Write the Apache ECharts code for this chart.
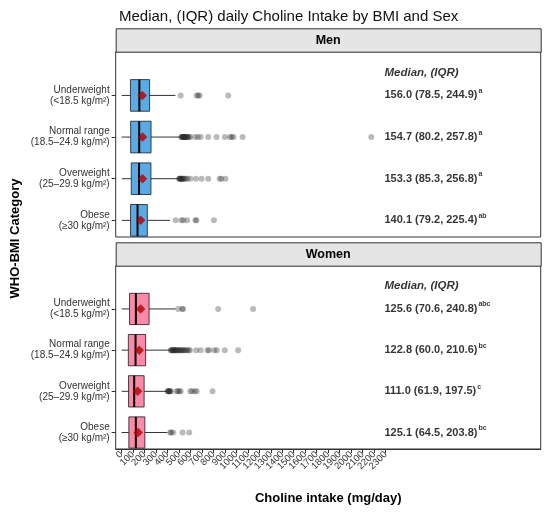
<!DOCTYPE html>
<html>
<head>
<meta charset="utf-8">
<script src="https://cdn.jsdelivr.net/npm/echarts@6/dist/echarts.min.js"></script>
<style>
  html, body { margin: 0; padding: 0; background: #fff; }
  #main { width: 550px; height: 512px; }
</style>
</head>
<body>
<div id="main"></div>
<script>
// categories (top to bottom)
var categories = ['Underweight\n(<18.5 kg/m²)', 'Normal range\n(18.5–24.9 kg/m²)', 'Overweight\n(25–29.9 kg/m²)', 'Obese\n(≥30 kg/m²)'];
var panels = ['Men', 'Women'];

// box stats: [lower whisker, Q1, median, Q3, upper whisker]
var menBox = [[2, 78.5, 156.0, 244.9, 470], [1, 80.2, 154.7, 257.8, 518], [4, 85.3, 153.3, 256.8, 500], [3, 79.2, 140.1, 225.4, 422]];
var womenBox = [[1, 70.6, 125.6, 240.8, 470], [1, 60.0, 122.8, 210.6, 428], [2, 61.9, 111.0, 197.5, 400], [1, 64.5, 125.1, 203.8, 400]];

// means (red diamonds)
var menMean = [181, 184, 184, 167];
var womenMean = [167, 155, 141, 146];

// outliers per category
var menOut = [
  [515, 655, 668, 680, 930],
  [522, 526, 530, 534, 538, 542, 546, 550, 555, 560, 566, 572, 580, 588, 596, 640, 665, 690, 755, 828, 900, 945, 960, 975, 1055, 2175],
  [502, 506, 510, 514, 518, 522, 527, 533, 540, 550, 560, 575, 600, 648, 697, 755, 855, 870, 906],
  [472, 522, 538, 572, 645, 652, 805]
];
var womenOut = [
  [494, 530, 536, 842, 1146],
  [430, 435, 440, 445, 450, 455, 460, 466, 472, 478, 485, 492, 500, 508, 516, 524, 532, 540, 550, 560, 572, 585, 596, 650, 690, 750, 762, 808, 830, 900, 1016],
  [402, 406, 410, 414, 418, 424, 430, 480, 492, 505, 515, 600, 615, 640, 655, 793],
  [425, 432, 451, 532, 590]
];

// text annotations
var menStats = ['156.0 (78.5, 244.9)', '154.7 (80.2, 257.8)', '153.3 (85.3, 256.8)', '140.1 (79.2, 225.4)'];
var menSup = ['a', 'a', 'a', 'ab'];
var womenStats = ['125.6 (70.6, 240.8)', '122.8 (60.0, 210.6)', '111.0 (61.9, 197.5)', '125.1 (64.5, 203.8)'];
var womenSup = ['abc', 'bc', 'c', 'bc'];

// x tick labels
var xTicks = [0, 100, 200, 300, 400, 500, 600, 700, 800, 900, 1000, 1100, 1200, 1300, 1400, 1500, 1600, 1700, 1800, 1900, 2000, 2100, 2200, 2300];

var xMin = -50, xMax = 3650;
var boxColors = ['#5aaae6', '#fa8aa7'];
var labelX = 2290;
var font = 'Liberation Sans, Arial, sans-serif';

function boxRender(fill) {
    return function (params, api) {
        var y = api.value(0);
        var lo = api.coord([api.value(1), y]);
        var q1 = api.coord([api.value(2), y]);
        var md = api.coord([api.value(3), y]);
        var q3 = api.coord([api.value(4), y]);
        var hi = api.coord([api.value(5), y]);
        var h = api.size([0, 0.76])[1];
        var line = { stroke: '#333', lineWidth: 1 };
        return {
            type: 'group',
            children: [
                { type: 'line', shape: { x1: lo[0], y1: lo[1], x2: q1[0], y2: q1[1] }, style: line },
                { type: 'line', shape: { x1: q3[0], y1: q3[1], x2: hi[0], y2: hi[1] }, style: line },
                { type: 'rect', shape: { x: q1[0], y: q1[1] - h / 2, width: q3[0] - q1[0], height: h },
                  style: { fill: fill, stroke: '#1a1a1a', lineWidth: 0.8 } },
                { type: 'line', shape: { x1: md[0], y1: md[1] - h / 2, x2: md[0], y2: md[1] + h / 2 },
                  style: { stroke: '#000', lineWidth: 2 } }
            ]
        };
    };
}

var boxes = [menBox, womenBox];
var means = [menMean, womenMean];
var outs = [menOut, womenOut];
var stats = [menStats, womenStats];
var sups = [menSup, womenSup];

var grids = [
    { left: 115.7, right: 9.3, top: 51.7, height: 185.3, show: true, borderColor: '#333', borderWidth: 1, backgroundColor: '#fff' },
    { left: 115.7, right: 9.3, top: 265.7, height: 183.3, show: true, borderColor: '#333', borderWidth: 1, backgroundColor: '#fff' }
];

// blank labels at both ends so the min/max overlap check drops them, not real ticks
var labelValues = [xMin].concat(xTicks, [xMax]);

var xAxes = [0, 1].map(function (g) {
    return {
        type: 'value', gridIndex: g, min: xMin, max: xMax,
        show: g === 1,
        position: 'bottom',
        splitLine: { show: false },
        axisLine: { show: true, onZero: false, lineStyle: { color: '#333', width: 1 } },
        axisTick: { show: true, length: 4, lineStyle: { color: '#333', width: 1 }, customValues: xTicks },
        axisLabel: {
            show: true, rotate: 45, fontSize: 9.5, color: '#333', margin: 4, fontFamily: font,
            customValues: labelValues, hideOverlap: false, showMinLabel: false, showMaxLabel: false,
            formatter: function (v) { return xTicks.indexOf(v) >= 0 ? String(v) : ''; }
        },
        name: g === 1 ? 'Choline intake (mg/day)' : '',
        nameLocation: 'middle', nameGap: 43,
        nameTextStyle: { fontSize: 13, fontWeight: 'bold', color: '#000', fontFamily: font }
    };
});

var yAxes = [0, 1].map(function (g) {
    return {
        type: 'value', gridIndex: g, inverse: true, min: -1.05, max: 3.4,
        position: 'left',
        splitLine: { show: false },
        axisLine: { show: false, onZero: false },
        axisTick: { show: true, length: 4, lineStyle: { color: '#333' }, customValues: [0, 1, 2, 3] },
        axisLabel: {
            show: true, fontSize: 10, color: '#333', margin: 6, lineHeight: 11, fontFamily: font,
            customValues: [0, 1, 2, 3],
            formatter: function (v) { return categories[Math.round(v)] || ''; }
        }
    };
});

var series = [];
[0, 1].forEach(function (g) {
    series.push({
        type: 'custom', xAxisIndex: g, yAxisIndex: g,
        renderItem: boxRender(boxColors[g]),
        encode: { x: [1, 2, 3, 4, 5], y: 0 },
        data: boxes[g].map(function (b, i) { return [i].concat(b); }),
        z: 2
    });
    var pts = [];
    outs[g].forEach(function (arr, i) {
        arr.forEach(function (v) { pts.push([v, i]); });
    });
    series.push({
        type: 'scatter', xAxisIndex: g, yAxisIndex: g,
        symbolSize: 6,
        itemStyle: { color: 'rgba(40,40,40,0.4)' },
        data: pts, z: 3, silent: true
    });
    series.push({
        type: 'scatter', xAxisIndex: g, yAxisIndex: g,
        symbol: 'diamond', symbolSize: 9.5,
        itemStyle: { color: '#b00000' },
        data: means[g].map(function (m, i) { return [m, i]; }), z: 4
    });
    var txt = stats[g].map(function (s, i) { return [labelX, i]; });
    txt.unshift([labelX, -0.55]);
    series.push({
        type: 'scatter', xAxisIndex: g, yAxisIndex: g,
        symbolSize: 0,
        data: txt,
        label: {
            show: true, position: 'right', distance: 0, fontFamily: font,
            formatter: function (p) {
                if (p.dataIndex === 0) return '{h|Median, (IQR)}';
                var i = p.dataIndex - 1;
                return '{v|' + stats[g][i] + '}{s|' + sups[g][i] + '}';
            },
            rich: {
                h: { fontSize: 11.5, fontWeight: 'bold', fontStyle: 'italic', color: '#000', fontFamily: font },
                v: { fontSize: 11, fontWeight: 'bold', color: '#000', fontFamily: font },
                s: { fontSize: 7, fontWeight: 'bold', color: '#000', fontFamily: font, padding: [0, 0, 9, 1] }
            }
        },
        z: 5
    });
});

var stripTops = [28.3, 242.3];
var graphic = [];
stripTops.forEach(function (t, g) {
    graphic.push({
        type: 'rect', left: 115.7, top: t,
        shape: { width: 425, height: 23.4 },
        style: { fill: '#e5e5e5', stroke: '#333', lineWidth: 1 }
    });
    graphic.push({
        type: 'text', x: 328.2, y: t + 11.9,
        style: { text: panels[g], fontSize: 12.5, fontWeight: 'bold', fill: '#000', align: 'center', verticalAlign: 'middle', fontFamily: font }
    });
});
graphic.push({
    type: 'text', x: 15, y: 238.5, rotation: Math.PI / 2,
    style: { text: 'WHO-BMI Category', fontSize: 13, fontWeight: 'bold', fill: '#000', align: 'center', verticalAlign: 'middle', fontFamily: font }
});

var myChart = echarts.init(document.getElementById('main'));
var option = {
    backgroundColor: '#fff',
    animation: false,
    title: {
        text: 'Median, (IQR) daily Choline Intake by BMI and Sex',
        left: 114, top: 4,
        textStyle: { fontSize: 15, fontWeight: 'normal', color: '#111', fontFamily: font }
    },
    grid: grids,
    xAxis: xAxes,
    yAxis: yAxes,
    series: series,
    graphic: graphic
};
myChart.setOption(option);
</script>
</body>
</html>
